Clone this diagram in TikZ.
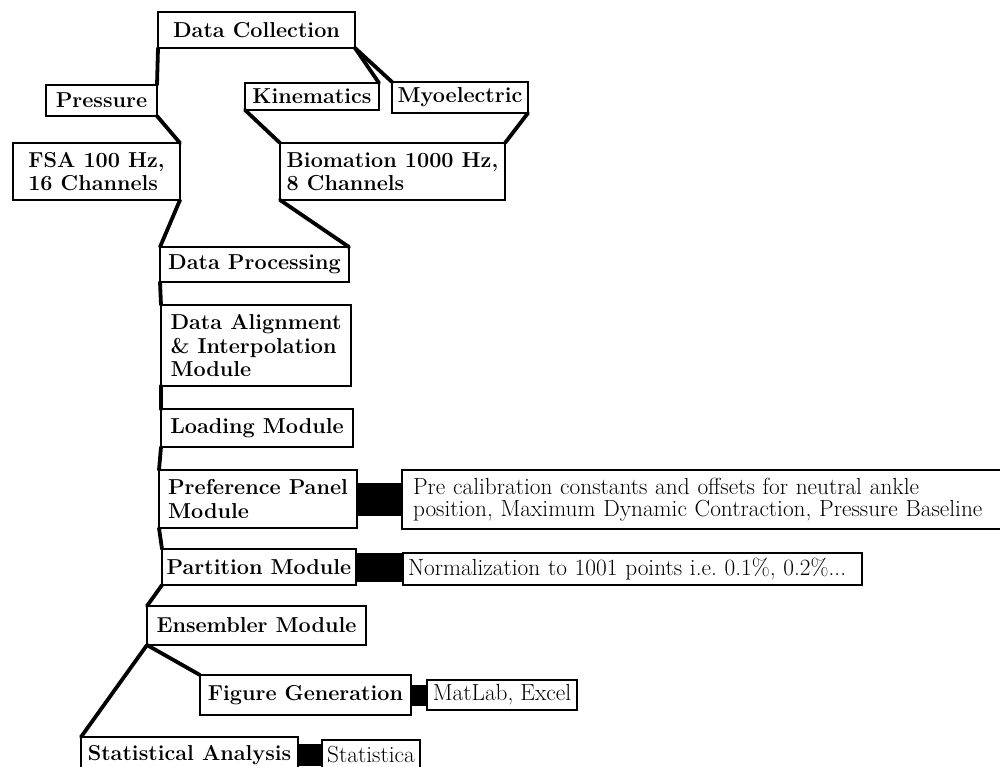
\documentclass[tikz,border=0pt]{standalone}
\usepackage{fontspec}
\tikzset{
  box/.style={draw, line width=1.2pt, anchor=north west, inner xsep=4pt,
    inner ysep=1pt, outer sep=0pt, font=\bfseries\fontsize{21.6}{23.5}\selectfont},
  info/.style={box, font=\frenchspacing\fontsize{23.3}{22}\selectfont},
  link/.style={line width=3.8pt, line cap=round},
  bar/.style={line width=#1, line cap=butt},
}
\begin{document}
\begin{tikzpicture}[x=1pt, y=-1pt]
\useasboundingbox (0,0) rectangle (1000,766);
\clip (0,0) rectangle (1000,766);

% acquisition
\node[box, minimum width=197pt, minimum height=36pt] (collect) at (158,12) {Data Collection};
\node[box, minimum width=111pt, minimum height=31pt] (pressure) at (46,85) {Pressure};
\node[box, minimum width=134pt, minimum height=27pt] (kinem) at (245,83) {Kinematics};
\node[box, minimum width=136pt, minimum height=31pt] (myo) at (392,82) {Myoelectric};
\node[box, align=left, minimum width=167pt, minimum height=57pt] (fsa) at (13,143) {FSA 100 Hz,\\16 Channels};
\node[box, align=left, minimum width=225pt, minimum height=57pt] (bio) at (280,143) {Biomation 1000 Hz,\\8 Channels};

% processing chain
\node[box, minimum width=189pt, minimum height=35pt] (proc) at (160,247) {Data Processing};
\node[box, align=left, minimum width=190pt, minimum height=81pt] (align) at (161,305) {Data Alignment\\\& Interpolation\\Module};
\node[box, minimum width=192pt, minimum height=38pt] (load) at (161,409) {Loading Module};
\node[box, align=left, minimum width=198pt, minimum height=58pt] (pref) at (159,470) {Preference Panel\\Module};
\node[info, align=left, inner xsep=11pt, text width=580pt, minimum width=602pt, minimum height=59pt] (calib) at (402,470)
  {Pre calibration constants and offsets for neutral ankle\\position, Maximum Dynamic Contraction, Pressure Baseline};
\node[box, minimum width=194pt, minimum height=36pt] (part) at (162,549) {Partition Module};
\node[info, align=left, text width=449pt, minimum width=459pt, minimum height=32pt] (norm) at (403,553)
  {Normalization to 1001 points i.e.\ 0.1\%, 0.2\%...};
\node[box, minimum width=219pt, minimum height=39pt] (ens) at (147,606) {Ensembler Module};

% output
\node[box, minimum width=211pt, minimum height=40pt] (fig) at (200,675) {Figure Generation};
\node[info, minimum width=150pt, minimum height=30pt] (matlab) at (427,680) {MatLab, Excel};
\node[box, minimum width=217pt, minimum height=36pt] (stat) at (81,737) {Statistical Analysis};
\node[info, minimum width=98pt, minimum height=30pt] (stca) at (322,740) {Statistica};

% tree connectors
\draw[link] (collect.south west) -- (pressure.north east);
\draw[link] (collect.south east) -- (kinem.north east);
\draw[link] (collect.south east) -- (myo.north west);
\draw[link] (pressure.south east) -- (fsa.north east);
\draw[link] (kinem.south west) -- (bio.north west);
\draw[link] (myo.south east) -- (bio.north east);
\draw[link] (fsa.south east) -- (proc.north west);
\draw[link] (bio.south west) -- (proc.north east);
\draw[link] (proc.south west) -- (align.north west);
\draw[link] (align.south west) -- (load.north west);
\draw[link] (load.south west) -- (pref.north west);
\draw[link] (pref.south west) -- (part.north west);
\draw[link] (part.south west) -- (ens.north west);
\draw[link] (ens.south west) -- (fig.north west);
\draw[link] (ens.south west) -- (stat.north west);

% solid bars to the detail boxes
\draw[bar=33pt] (pref.east) -- (pref.east -| calib.west);
\draw[bar=29pt] (part.east) -- (part.east -| norm.west);
\draw[bar=21pt] (fig.east) -- (fig.east -| matlab.west);
\draw[bar=22pt] (stat.east) -- (stat.east -| stca.west);
\end{tikzpicture}
\end{document}
